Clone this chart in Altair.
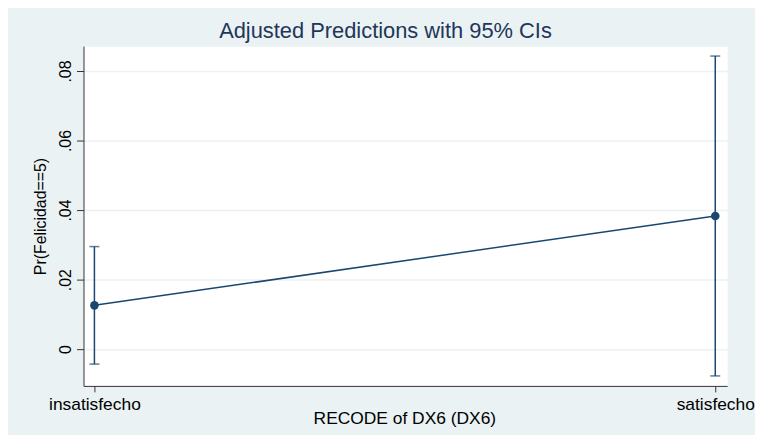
import json
import altair as alt
import pandas as pd

# ---- data ----
categories = ["insatisfecho", "satisfecho"]
positions = [0, 1]
margins = [0.0126, 0.0383]
ci_lower = [-0.0043, -0.0077]
ci_upper = [0.0295, 0.0843]
y_ticks = [0, 0.02, 0.04, 0.06, 0.08]
y_tick_labels = ["0", ".02", ".04", ".06", ".08"]

df = pd.DataFrame({
    "pos": positions,
    "cat": categories,
    "margin": margins,
    "lo": ci_lower,
    "hi": ci_upper,
})

NAVY = "#1a476f"
AXIS = "#333333"
FONT = "Liberation Sans"

x_enc = alt.X(
    "pos:Q",
    scale=alt.Scale(domain=[-0.0176, 1.0192], nice=False, zero=False),
    axis=alt.Axis(
        values=positions,
        labelExpr=json.dumps(categories) + "[datum.value]",
        grid=False,
        domainColor=AXIS,
        tickColor=AXIS,
        tickSize=6,
        labelFont=FONT,
        labelFontSize=17.5,
        labelColor="black",
        labelBaseline="alphabetic",
        labelPadding=18,
        labelFlush=False,
        labelAlign="center",
        title="RECODE of DX6 (DX6)",
        titleFont=FONT,
        titleFontSize=17.5,
        titleFontWeight="normal",
        titleColor="black",
        titleBaseline="alphabetic",
        titleAlign="center",
        titleX=323,
        titleY=38,
    ),
)

y_axis = alt.Axis(
    values=y_ticks,
    labelExpr=json.dumps(y_tick_labels) + "[round(datum.value * 50)]",
    grid=True,
    gridColor="#EAF2F3",
    gridWidth=1.5,
    domainColor=AXIS,
    tickColor=AXIS,
    tickSize=7,
    labelFont=FONT,
    labelFontSize=16,
    labelColor="black",
    labelAngle=270,
    labelAlign="center",
    labelBaseline="alphabetic",
    labelPadding=6,
    title="Pr(Felicidad==5)",
    titleFont=FONT,
    titleFontSize=16,
    titleFontWeight="normal",
    titleColor="black",
    titleAngle=270,
    titleAlign="center",
    titleBaseline="alphabetic",
    titleX=-38,
    titleY=171,
)
y_scale = alt.Scale(domain=[-0.010571, 0.087143], nice=False, zero=False)

base = alt.Chart(df)

line = base.mark_line(color=NAVY, strokeWidth=1.5).encode(
    x=x_enc,
    y=alt.Y("margin:Q", scale=y_scale, axis=y_axis),
)

rule = base.mark_rule(color=NAVY, strokeWidth=1.5).encode(
    x=alt.X("pos:Q"),
    y=alt.Y("lo:Q"),
    y2=alt.Y2("hi:Q"),
)

cap_lo = base.mark_tick(orient="horizontal", size=10, thickness=1.5, color=NAVY).encode(
    x=alt.X("pos:Q"),
    y=alt.Y("lo:Q"),
)
cap_hi = base.mark_tick(orient="horizontal", size=10, thickness=1.5, color=NAVY).encode(
    x=alt.X("pos:Q"),
    y=alt.Y("hi:Q"),
)

points = base.mark_point(filled=True, size=75, opacity=1, color=NAVY).encode(
    x=alt.X("pos:Q"),
    y=alt.Y("margin:Q"),
)

chart = (
    alt.layer(line, rule, cap_lo, cap_hi, points)
    .properties(
        width=648,
        height=342,
        autosize=alt.AutoSizeParams(type="none"),
        padding={"left": 76, "top": 37, "right": 28, "bottom": 48},
        background="#EAF2F3",
        view=alt.ViewBackground(fill="white", stroke="transparent"),
        title=alt.TitleParams(
            text="Adjusted Predictions with 95% CIs",
            anchor="middle",
            font=FONT,
            fontSize=22,
            fontWeight="normal",
            color="#22365a",
            baseline="alphabetic",
            offset=-14,
            dx=-20,
        ),
    )
    .configure_view(fill="white", stroke="transparent")
    .configure(font=FONT)
)

chart.save("out.html", embed_options={"renderer": "svg", "actions": False})
